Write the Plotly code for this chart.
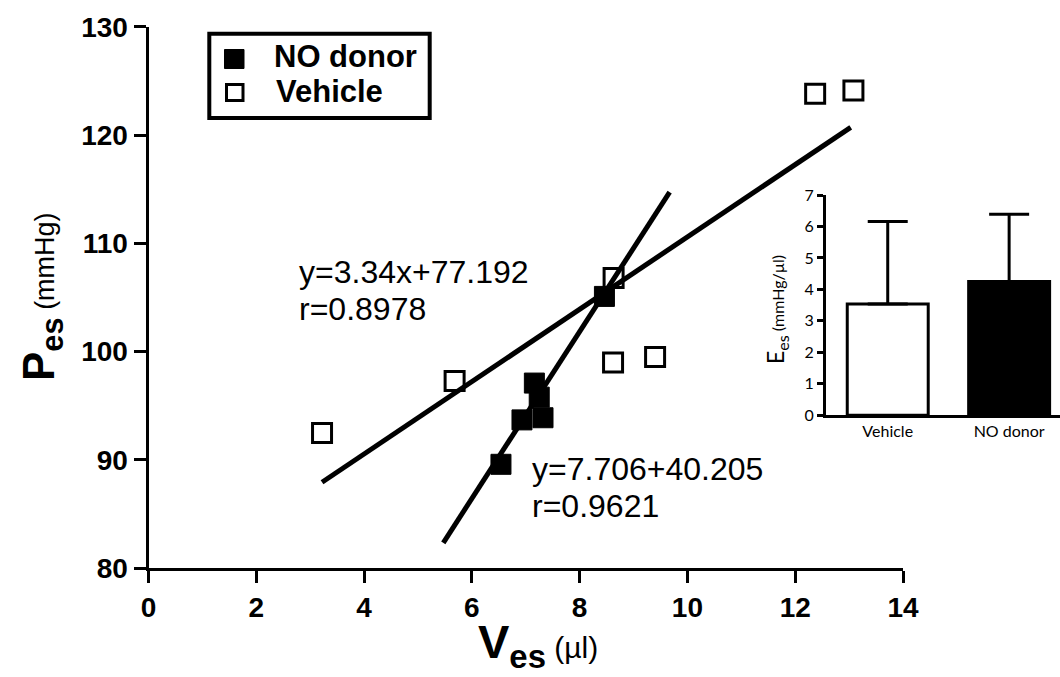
import plotly.graph_objects as go

# End-systolic pressure-volume points
veh_v = [3.22, 5.68, 8.63, 8.62, 9.40, 12.37, 13.08]
veh_p = [92.5, 97.3, 106.8, 99.0, 99.5, 123.8, 124.1]
nod_v = [8.46, 7.16, 7.25, 6.93, 7.32, 6.54]
nod_p = [105.1, 97.1, 95.8, 93.7, 93.9, 89.6]

# Regression fits (slope, intercept) and the span each line is drawn over
veh_fit = (3.34, 77.192)
veh_span = [3.22, 13.03]
nod_fit = (7.706, 40.205)
nod_span = [5.47, 9.67]

# Inset: end-systolic elastance
groups = ["Vehicle", "NO donor"]
ees_mean = [3.54, 4.25]
ees_err = [2.62, 2.14]

W, H = 1060, 677
FONT = "Liberation Sans, Arial, sans-serif"
INSET_FONT = "Lato, Open Sans, sans-serif"


def fx(px):
    return px / W


def fy(py):
    return 1 - py / H


fig = go.Figure()

# scatter points
fig.add_trace(go.Scatter(
    x=veh_v, y=veh_p, mode="markers", name="Vehicle",
    marker=dict(symbol="square", size=19, color="white",
                line=dict(color="black", width=3)),
    xaxis="x", yaxis="y"))
fig.add_trace(go.Scatter(
    x=nod_v, y=nod_p, mode="markers", name="NO donor",
    marker=dict(symbol="square", size=20, color="black",
                line=dict(color="black", width=1)),
    xaxis="x", yaxis="y"))

# regression lines
for (m, b), span in [(veh_fit, veh_span), (nod_fit, nod_span)]:
    fig.add_trace(go.Scatter(
        x=span, y=[m * v + b for v in span], mode="lines",
        line=dict(color="black", width=5), showlegend=False,
        xaxis="x", yaxis="y"))

# inset bars
fig.add_trace(go.Bar(
    x=[0, 1], y=ees_mean, width=0.667,
    marker=dict(color=["white", "black"], line=dict(color="black", width=3)),
    error_y=dict(type="data", array=ees_err, arrayminus=[0, 0],
                 symmetric=False, color="black", thickness=3, width=20),
    xaxis="x2", yaxis="y2", showlegend=False))

axis_common = dict(showline=True, linecolor="black", linewidth=3,
                   ticks="outside", ticklen=12, tickwidth=3, tickcolor="black",
                   showgrid=False, zeroline=False, automargin=False,
                   tickfont=dict(family=FONT, size=28, color="black", weight="bold"))

fig.update_layout(
    width=W, height=H,
    margin=dict(l=0, r=0, t=0, b=0, pad=0, autoexpand=False),
    paper_bgcolor="white", plot_bgcolor="rgba(0,0,0,0)",
    showlegend=False,
    font=dict(family=FONT, color="black"),
    xaxis=dict(domain=[fx(148.5), fx(903)], range=[0, 14], dtick=2,
               anchor="y", **axis_common),
    yaxis=dict(domain=[fy(568.3), fy(26.7)], range=[80, 130], dtick=10,
               anchor="x", **axis_common),
    xaxis2=dict(domain=[fx(825.7), 1.0], range=[-0.511, 1.419],
                anchor="y2", showline=True, linecolor="black", linewidth=2.5,
                ticks="", tickvals=[0, 1], ticktext=groups, automargin=False,
                showgrid=False, zeroline=False,
                tickfont=dict(family=INSET_FONT, size=16, color="black")),
    yaxis2=dict(domain=[fy(415.3), fy(195)], range=[0, 7], dtick=1,
                anchor="x2", showline=True, linecolor="black", linewidth=2.5,
                ticks="outside", ticklen=6, tickwidth=2.5, tickcolor="black",
                showgrid=False, zeroline=False, automargin=False,
                tickfont=dict(family=INSET_FONT, size=16, color="black")),
)

ann = []


def text(px, py, s, size, xanchor="left", angle=0, bold=False, family=FONT):
    ann.append(dict(xref="paper", yref="paper", x=fx(px), y=fy(py), text=s,
                    showarrow=False, xanchor=xanchor, yanchor="middle",
                    textangle=angle,
                    font=dict(family=family, size=size, color="black",
                              weight="bold" if bold else "normal")))


# fit equations
text(296.7, 283.3 - 11, "y=3.34x+77.192", 32)
text(296.7, 320.0 - 11, "r=0.8978", 32)
text(530.0, 480.0 - 11, "y=7.706+40.205", 32)
text(530.0, 516.7 - 11, "r=0.9621", 32)

# axis titles
text(538, 645, "<b>V</b><sub><b>es</b></sub><span style='font-size:30px'> (µl)</span>",
     47, xanchor="center", bold=False)
text(42, 297, "<b>P</b><sub><b>es</b></sub><span style='font-size:27px'> (mmHg)</span>",
     44, xanchor="center", angle=-90)
text(776, 310, "E<sub>es</sub><span style='font-size:16px'> (mmHg/µl)</span>",
     23, xanchor="center", angle=-90, family=INSET_FONT)

# legend
text(271.7, 66.7 - 10, "NO donor", 31, bold=True)
text(274.0, 101.7 - 10, "Vehicle", 31, bold=True)

fig.update_layout(annotations=ann)

shapes = [
    dict(type="rect", xref="paper", yref="paper",
         x0=fx(209.3), x1=fx(429.7), y0=fy(118), y1=fy(33.7),
         line=dict(color="black", width=4), fillcolor="white", layer="below"),
    dict(type="rect", xref="paper", yref="paper",
         x0=fx(224.5), x1=fx(244), y0=fy(68.5), y1=fy(49.5),
         line=dict(color="black", width=1), fillcolor="black"),
    dict(type="rect", xref="paper", yref="paper",
         x0=fx(226.5), x1=fx(243), y0=fy(100.5), y1=fy(84.5),
         line=dict(color="black", width=3), fillcolor="white"),
]
fig.update_layout(shapes=shapes)

fig.write_html("out.html")
